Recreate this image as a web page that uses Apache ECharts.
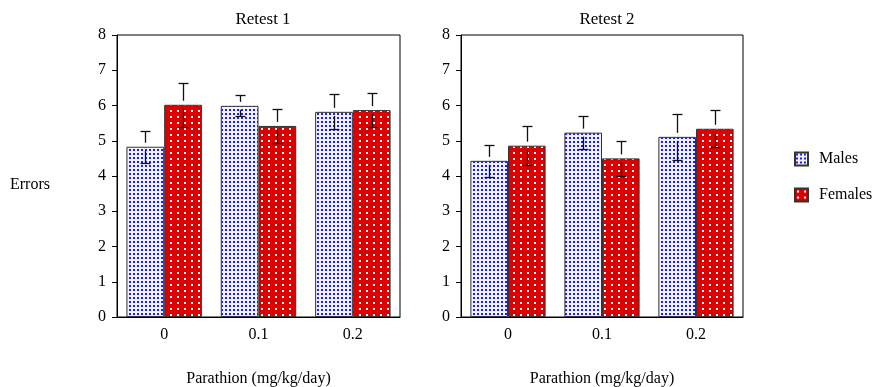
<!DOCTYPE html>
<html>
<head>
<meta charset="utf-8">
<script src="https://cdn.jsdelivr.net/npm/echarts@6/dist/echarts.min.js"></script>
<style>
  html, body { margin: 0; padding: 0; background: #fff; }
  #chart { width: 879px; height: 387px; }
</style>
</head>
<body>
<div id="chart"></div>
<script>
    // doses on the x axis
    const doses = ['0', '0.1', '0.2'];

    // Retest 1
    const males1 = [4.83, 5.99, 5.82];
    const males1Err = [0.46, 0.30, 0.50];
    const females1 = [6.02, 5.42, 5.87];
    const females1Err = [0.62, 0.48, 0.49];

    // Retest 2
    const males2 = [4.43, 5.23, 5.11];
    const males2Err = [0.45, 0.46, 0.66];
    const females2 = [4.86, 4.50, 5.34];
    const females2Err = [0.56, 0.50, 0.53];

    const FONT = 'Liberation Serif';

    function makePattern(bg, dot, w, h, dots) {
        let c = document.createElement('canvas');
        c.width = w; c.height = h;
        let ctx = c.getContext('2d');
        ctx.fillStyle = bg;
        ctx.fillRect(0, 0, w, h);
        ctx.fillStyle = dot;
        dots.forEach(function (d) { ctx.fillRect(d[0], d[1], 2, 2); });
        return { image: c, repeat: 'repeat' };
    }
    const malePattern = makePattern('#f2f2ff', '#1a1aff', 4, 4, [[1, 1]]);
    const femalePattern = makePattern('#dd0000', '#ffffff', 7, 6, [[2, 2]]);

    function errSeries(means, errs, side, axisIdx) {
        return {
            type: 'custom',
            name: 'err',
            xAxisIndex: axisIdx,
            yAxisIndex: axisIdx,
            z: 10,
            data: means.map(function (m, i) { return [i, m, errs[i]]; }),
            renderItem: function (params, api) {
                let cat = api.value(0), m = api.value(1), e = api.value(2);
                let bw = api.size([1, 0])[0] * 0.8 / 2;
                let c = api.coord([cat, m]);
                let x = Math.round(c[0] + side * bw / 2) + 0.5;
                let yTop = Math.round(api.coord([cat, m + e])[1]) + 0.5;
                let yBot = Math.round(api.coord([cat, m - e])[1]) + 0.5;
                let cap = 5, gap = 4;
                let st = { stroke: '#111', lineWidth: 1.3 };
                return {
                    type: 'group',
                    children: [
                        { type: 'line', shape: { x1: x, y1: yTop, x2: x, y2: c[1] - gap }, style: st },
                        { type: 'line', shape: { x1: x - cap, y1: yTop, x2: x + cap, y2: yTop }, style: st },
                        { type: 'line', shape: { x1: x, y1: c[1] + gap, x2: x, y2: yBot }, style: st },
                        { type: 'line', shape: { x1: x - cap, y1: yBot, x2: x + cap, y2: yBot }, style: st }
                    ]
                };
            }
        };
    }

    function xAx(idx) {
        return {
            type: 'category',
            gridIndex: idx,
            data: doses,
            name: 'Parathion (mg/kg/day)',
            nameLocation: 'middle',
            nameGap: 54,
            nameTextStyle: { fontFamily: FONT, fontSize: 16, color: '#000' },
            axisLine: { lineStyle: { color: '#000', width: 1 } },
            axisTick: { alignWithLabel: true, length: 5, lineStyle: { color: '#000' } },
            axisLabel: { fontFamily: FONT, fontSize: 16, color: '#000', margin: 10 }
        };
    }
    function yAx(idx) {
        return {
            type: 'value',
            gridIndex: idx,
            min: 0, max: 8, interval: 1,
            axisLine: { show: true, lineStyle: { color: '#000', width: 1 } },
            axisTick: { show: true, length: 5, lineStyle: { color: '#000' } },
            axisLabel: { fontFamily: FONT, fontSize: 16, color: '#000', margin: 11 },
            splitLine: { show: false }
        };
    }
    function barS(name, vals, pat, idx) {
        return {
            type: 'bar',
            name: name,
            xAxisIndex: idx,
            yAxisIndex: idx,
            data: vals,
            barGap: '0%',
            barCategoryGap: '20%',
            itemStyle: { color: pat, borderColor: '#333', borderWidth: 1 }
        };
    }

    let chart = echarts.init(document.getElementById('chart'));
    let option = {
        animation: false,
        backgroundColor: '#fff',
        title: [
            { text: 'Retest 1', left: 258, top: 6, textAlign: 'center',
              textStyle: { fontFamily: FONT, fontSize: 17, fontWeight: 'normal', color: '#000' } },
            { text: 'Retest 2', left: 602, top: 6, textAlign: 'center',
              textStyle: { fontFamily: FONT, fontSize: 17, fontWeight: 'normal', color: '#000' } }
        ],
        graphic: [{
            type: 'text', left: 10, top: 177,
            style: { text: 'Errors', fontFamily: FONT, fontSize: 16, fill: '#000' }
        }],
        legend: {
            orient: 'vertical',
            left: 789, top: 146,
            data: ['Males', 'Females'],
            icon: 'rect',
            itemWidth: 13, itemHeight: 13,
            itemGap: 20,
            textStyle: { fontFamily: FONT, fontSize: 16, color: '#000', padding: [0, 0, 0, 6] }
        },
        grid: [
            { left: 117, top: 35, width: 283, height: 282, show: true, borderColor: '#000', borderWidth: 1,
              outerBoundsMode: 'none', containLabel: false },
            { left: 461, top: 35, width: 282, height: 282, show: true, borderColor: '#000', borderWidth: 1,
              outerBoundsMode: 'none', containLabel: false }
        ],
        xAxis: [xAx(0), xAx(1)],
        yAxis: [yAx(0), yAx(1)],
        series: [
            barS('Males', males1, malePattern, 0),
            barS('Females', females1, femalePattern, 0),
            barS('Males', males2, malePattern, 1),
            barS('Females', females2, femalePattern, 1),
            errSeries(males1, males1Err, -1, 0),
            errSeries(females1, females1Err, 1, 0),
            errSeries(males2, males2Err, -1, 1),
            errSeries(females2, females2Err, 1, 1)
        ]
    };
    chart.setOption(option);
    window.addEventListener('resize', function () {
        chart.resize();
    });
</script>
</body>
</html>
